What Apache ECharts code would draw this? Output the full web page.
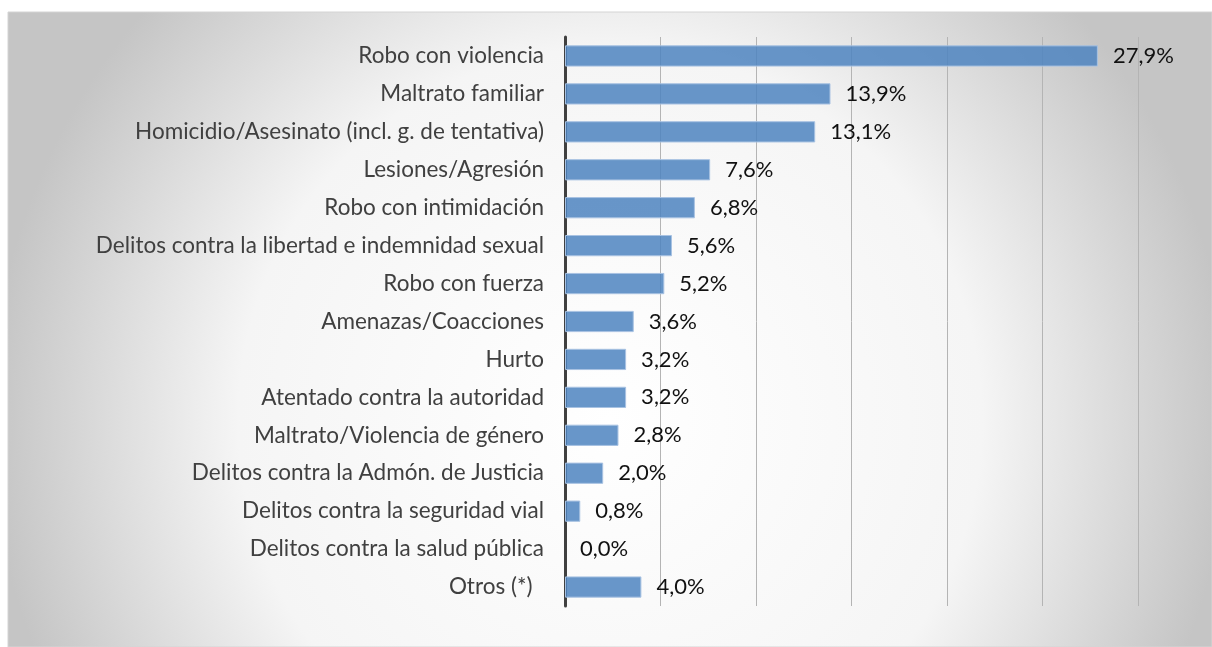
<!DOCTYPE html>
<html>
<head>
<meta charset="utf-8">
<title>Delitos</title>
<script src="https://cdn.jsdelivr.net/npm/echarts@6/dist/echarts.min.js"></script>
<style>
  html, body { margin: 0; padding: 0; background: #ffffff; }
  #main { width: 1212px; height: 647px; }
</style>
</head>
<body>
<div id="main"></div>
<script type="text/javascript">
// categorias de arriba a abajo
var categorias = [
  'Robo con violencia',
  'Maltrato familiar',
  'Homicidio/Asesinato (incl. g. de tentativa)',
  'Lesiones/Agresión',
  'Robo con intimidación',
  'Delitos contra la libertad e indemnidad sexual',
  'Robo con fuerza',
  'Amenazas/Coacciones',
  'Hurto',
  'Atentado contra la autoridad',
  'Maltrato/Violencia de género',
  'Delitos contra la Admón. de Justicia',
  'Delitos contra la seguridad vial',
  'Delitos contra la salud pública',
  'Otros (*)'
];
var porcentajes = [27.9, 13.9, 13.1, 7.6, 6.8, 5.6, 5.2, 3.6, 3.2, 3.2, 2.8, 2.0, 0.8, 0.0, 4.0];

var fuente = 'Lato, "Open Sans", sans-serif';

// sin borde en las barras de valor cero
var datosBarras = porcentajes.map(function (v) {
  return v === 0 ? { value: v, itemStyle: { borderWidth: 0 } } : v;
});

var myChart = echarts.init(document.getElementById('main'));

var option = {
  animation: false,
  graphic: [{
    type: 'rect',
    z: -100,
    silent: true,
    shape: { x: 8, y: 12, width: 1204, height: 635 },
    style: {
      fill: {
        type: 'radial', global: true,
        x: 610, y: 420, r: 620,
        colorStops: [
          { offset: 0, color: '#ffffff' },
          { offset: 0.6, color: '#f5f5f5' },
          { offset: 1, color: '#c5c5c5' }
        ]
      },
      stroke: '#d4d4d4',
      lineWidth: 1
    }
  }],
  grid: { left: 565, right: 74, top: 37, bottom: 41 },
  xAxis: {
    type: 'value',
    min: 0,
    max: 30,
    interval: 5,
    axisLine: { show: false },
    axisTick: { show: false },
    axisLabel: { show: false },
    splitLine: { lineStyle: { color: '#b4b4b4', width: 1 } }
  },
  yAxis: {
    type: 'category',
    inverse: true,
    data: categorias,
    axisLine: { lineStyle: { color: '#404040', width: 3 } },
    axisTick: { show: false },
    axisLabel: {
      margin: 21,
      color: '#404040',
      fontFamily: fuente,
      fontSize: 22.5,
      formatter: function (v) { return v === 'Otros (*)' ? v + '  ' : v; }
    }
  },
  series: [{
    type: 'bar',
    data: datosBarras,
    barWidth: '56%',
    itemStyle: {
      color: 'rgba(78,132,191,0.85)',
      borderColor: '#a8c2e2',
      borderWidth: 1
    },
    label: {
      show: true,
      position: 'right',
      distance: 15,
      color: '#111111',
      fontFamily: fuente,
      fontSize: 22,
      formatter: function (p) { return p.value.toFixed(1).replace('.', ',') + '%'; }
    }
  }]
};

myChart.setOption(option);
</script>
</body>
</html>
